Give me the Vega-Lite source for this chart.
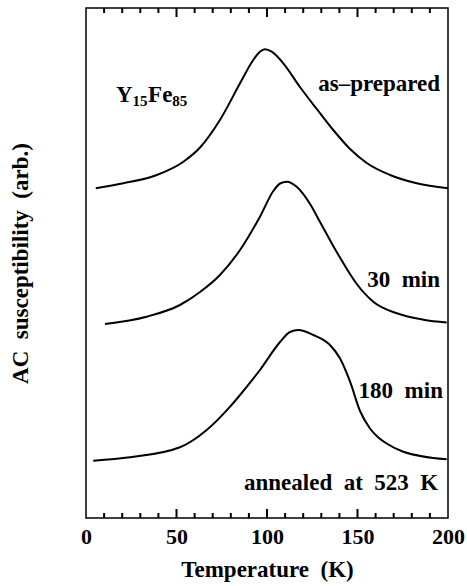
{
  "$schema": "https://vega.github.io/schema/vega-lite/v6.json",
  "autosize": {"type": "none"},
  "padding": {"left": 86, "top": 8, "right": 19, "bottom": 68},
  "width": 362,
  "height": 510,
  "background": "white",
  "config": {
    "view": {"stroke": "black", "strokeWidth": 1.5},
    "font": "Liberation Serif",
    "axis": {"labelFont": "Liberation Serif", "titleFont": "Liberation Serif", "labelFontWeight": "bold", "titleFontWeight": "bold", "labelColor": "black", "titleColor": "black", "tickColor": "black", "grid": false, "domain": false}
  },
  "datasets": {
    "curves": [
      {"s": "as-prepared", "T": 5.4, "v": 329.7},
      {"s": "as-prepared", "T": 20.6, "v": 334.7},
      {"s": "as-prepared", "T": 39.1, "v": 343},
      {"s": "as-prepared", "T": 53.8, "v": 356.3},
      {"s": "as-prepared", "T": 63.0, "v": 370.5},
      {"s": "as-prepared", "T": 74.0, "v": 398},
      {"s": "as-prepared", "T": 85.1, "v": 434.7},
      {"s": "as-prepared", "T": 92.4, "v": 458},
      {"s": "as-prepared", "T": 96.1, "v": 466.3},
      {"s": "as-prepared", "T": 98.9, "v": 468.7},
      {"s": "as-prepared", "T": 102.6, "v": 466.3},
      {"s": "as-prepared", "T": 109.0, "v": 454.7},
      {"s": "as-prepared", "T": 118.2, "v": 431},
      {"s": "as-prepared", "T": 127.5, "v": 409},
      {"s": "as-prepared", "T": 136.6, "v": 388},
      {"s": "as-prepared", "T": 145.9, "v": 369},
      {"s": "as-prepared", "T": 155.1, "v": 355},
      {"s": "as-prepared", "T": 168.0, "v": 343},
      {"s": "as-prepared", "T": 182.7, "v": 334.7},
      {"s": "as-prepared", "T": 200, "v": 329.7},
      {"s": "30 min", "T": 10.5, "v": 194},
      {"s": "30 min", "T": 33.5, "v": 201.3},
      {"s": "30 min", "T": 51.9, "v": 213},
      {"s": "30 min", "T": 63.0, "v": 226},
      {"s": "30 min", "T": 74.0, "v": 243},
      {"s": "30 min", "T": 85.1, "v": 268},
      {"s": "30 min", "T": 96.1, "v": 301.3},
      {"s": "30 min", "T": 103.5, "v": 327},
      {"s": "30 min", "T": 107.2, "v": 334.5},
      {"s": "30 min", "T": 110.9, "v": 336.3},
      {"s": "30 min", "T": 116.4, "v": 331.3},
      {"s": "30 min", "T": 123.8, "v": 314},
      {"s": "30 min", "T": 129.3, "v": 296},
      {"s": "30 min", "T": 136.6, "v": 272},
      {"s": "30 min", "T": 140.3, "v": 260.5},
      {"s": "30 min", "T": 149.6, "v": 234},
      {"s": "30 min", "T": 158.7, "v": 216.3},
      {"s": "30 min", "T": 171.7, "v": 204.7},
      {"s": "30 min", "T": 186.4, "v": 198.3},
      {"s": "30 min", "T": 199.3, "v": 195.5},
      {"s": "180 min", "T": 4, "v": 57.3},
      {"s": "180 min", "T": 24.3, "v": 60.7},
      {"s": "180 min", "T": 51.9, "v": 70.7},
      {"s": "180 min", "T": 66.7, "v": 88},
      {"s": "180 min", "T": 79.6, "v": 111.3},
      {"s": "180 min", "T": 85.1, "v": 123},
      {"s": "180 min", "T": 96.1, "v": 148},
      {"s": "180 min", "T": 107.2, "v": 176},
      {"s": "180 min", "T": 112.7, "v": 186},
      {"s": "180 min", "T": 117.3, "v": 188},
      {"s": "180 min", "T": 125.6, "v": 183},
      {"s": "180 min", "T": 134.8, "v": 173},
      {"s": "180 min", "T": 140.3, "v": 159.7},
      {"s": "180 min", "T": 145.9, "v": 136.3},
      {"s": "180 min", "T": 151.4, "v": 107},
      {"s": "180 min", "T": 156.9, "v": 89.5},
      {"s": "180 min", "T": 161.5, "v": 80.5},
      {"s": "180 min", "T": 166.1, "v": 74.5},
      {"s": "180 min", "T": 175.3, "v": 66.3},
      {"s": "180 min", "T": 199.3, "v": 58.7}
    ],
    "labels": [
      {"T": 195.6, "v": 427.3, "text": "as–prepared"},
      {"T": 195.6, "v": 231.3, "text": "30\u00a0 min"},
      {"T": 197.2, "v": 119.7, "text": "180\u00a0 min"},
      {"T": 194.6, "v": 28, "text": "annealed\u00a0 at\u00a0 523\u00a0 K"}
    ],
    "formula": [
      {"T": 16.6, "v": 416.3, "text": "Y"},
      {"T": 34.3, "v": 416.3, "text": "Fe"}
    ],
    "subs": [
      {"T": 25.7, "v": 412, "text": "15"},
      {"T": 47.7, "v": 412, "text": "85"}
    ],
    "majorTicks": [{"T": 50}, {"T": 100}, {"T": 150}],
    "minorTicks": [{"T": 10}, {"T": 20}, {"T": 30}, {"T": 40}, {"T": 60}, {"T": 70}, {"T": 80}, {"T": 90}, {"T": 110}, {"T": 120}, {"T": 130}, {"T": 140}, {"T": 160}, {"T": 170}, {"T": 180}, {"T": 190}]
  },
  "layer": [
    {
      "data": {"name": "curves"},
      "mark": {"type": "line", "color": "black", "strokeWidth": 2, "interpolate": "monotone"},
      "encoding": {
        "x": {"field": "T", "type": "quantitative", "scale": {"domain": [0, 200], "nice": false, "zero": false},
          "axis": {"orient": "bottom", "values": [0, 50, 100, 150, 200], "ticks": false,
            "labelFontSize": 22, "labelPadding": 8, "labelFlush": false, "labelOverlap": false,
            "title": "Temperature\u00a0 (K)", "titleFontSize": 23, "titlePadding": 11}},
        "y": {"field": "v", "type": "quantitative", "scale": {"domain": [0, 510], "nice": false},
          "axis": {"ticks": false, "labels": false, "title": "AC\u00a0 susceptibility\u00a0 (arb.)", "titleFontSize": 23, "titlePadding": 54}},
        "detail": {"field": "s"}
      }
    },
    {
      "data": {"name": "majorTicks"},
      "mark": {"type": "rule", "color": "black", "strokeWidth": 2},
      "encoding": {
        "x": {"field": "T", "type": "quantitative", "axis": null},
        "y": {"datum": 0, "type": "quantitative", "axis": null},
        "y2": {"datum": 9}
      }
    },
    {
      "data": {"name": "majorTicks"},
      "mark": {"type": "rule", "color": "black", "strokeWidth": 2},
      "encoding": {
        "x": {"field": "T", "type": "quantitative", "axis": null},
        "y": {"datum": 501, "type": "quantitative", "axis": null},
        "y2": {"datum": 510}
      }
    },
    {
      "data": {"name": "minorTicks"},
      "mark": {"type": "rule", "color": "black", "strokeWidth": 2},
      "encoding": {
        "x": {"field": "T", "type": "quantitative", "axis": null},
        "y": {"datum": 0, "type": "quantitative", "axis": null},
        "y2": {"datum": 5}
      }
    },
    {
      "data": {"name": "minorTicks"},
      "mark": {"type": "rule", "color": "black", "strokeWidth": 2},
      "encoding": {
        "x": {"field": "T", "type": "quantitative", "axis": null},
        "y": {"datum": 505, "type": "quantitative", "axis": null},
        "y2": {"datum": 510}
      }
    },
    {
      "data": {"name": "labels"},
      "mark": {"type": "text", "align": "right", "baseline": "alphabetic", "fontSize": 23, "fontWeight": "bold", "font": "Liberation Serif", "color": "black"},
      "encoding": {
        "x": {"field": "T", "type": "quantitative", "axis": null},
        "y": {"field": "v", "type": "quantitative", "axis": null},
        "text": {"field": "text"}
      }
    },
    {
      "data": {"name": "formula"},
      "mark": {"type": "text", "align": "left", "baseline": "alphabetic", "fontSize": 23, "fontWeight": "bold", "font": "Liberation Serif", "color": "black"},
      "encoding": {
        "x": {"field": "T", "type": "quantitative", "axis": null},
        "y": {"field": "v", "type": "quantitative", "axis": null},
        "text": {"field": "text"}
      }
    },
    {
      "data": {"name": "subs"},
      "mark": {"type": "text", "align": "left", "baseline": "alphabetic", "fontSize": 15, "fontWeight": "bold", "font": "Liberation Serif", "color": "black"},
      "encoding": {
        "x": {"field": "T", "type": "quantitative", "axis": null},
        "y": {"field": "v", "type": "quantitative", "axis": null},
        "text": {"field": "text"}
      }
    }
  ],
  "resolve": {"axis": {"x": "independent", "y": "independent"}}
}
